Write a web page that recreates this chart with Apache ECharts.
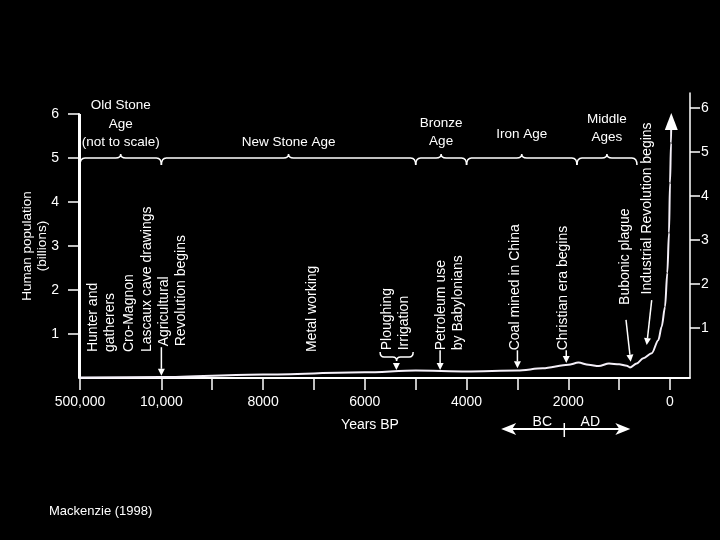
<!DOCTYPE html>
<html>
<head>
<meta charset="utf-8">
<script src="https://cdn.jsdelivr.net/npm/echarts@6/dist/echarts.min.js"></script>
<style>
  html, body { margin: 0; background: #000; }
  #main { width: 720px; height: 540px; }
</style>
</head>
<body>
<div id="main"></div>
<script>
// population curve (years before present -> billions)
var curveYears = [500000, 10000, 8000, 6000, 5000, 4000, 3000, 2500, 2000, 1800, 1600, 1400, 1200, 1000, 850, 787, 655, 525, 360, 230, 163, 98, 53, 20, 0, -20, -25];
var curvePop = [0.01, 0.02, 0.08, 0.13, 0.17, 0.15, 0.17, 0.22, 0.3, 0.35, 0.3, 0.27, 0.33, 0.31, 0.28, 0.24, 0.33, 0.45, 0.56, 0.86, 1.17, 1.62, 2.39, 3.3, 4.43, 5.34, 5.83];

// x axis ticks / labels (years BP)
var tickYears = [500000, 10000, 9000, 8000, 7000, 6000, 5000, 4000, 3000, 2000, 1000, 0];
var labelYears = [500000, 10000, 8000, 6000, 4000, 2000, 0];
var labelText = ['500,000', '10,000', '8000', '6000', '4000', '2000', '0'];
var popTicks = [1, 2, 3, 4, 5, 6];

// ages shown with braces along the top
var periodNames = ['Old Stone\nAge\n(not to scale)', 'New Stone Age', 'Bronze\nAge', 'Iron Age', 'Middle\nAges'];
var periodStart = [500000, 10000, 5000, 4000, 1830];
var periodEnd = [10000, 5000, 4000, 1830, 650];
var braceLevel = 5;

// vertical notes
var noteText = ['Hunter and\ngatherers', 'Cro-Magnon', 'Lascaux cave drawings', 'Agricultural\nRevolution begins',
  'Metal working', 'Ploughing\nIrrigation', 'Petroleum use\nby Babylonians', 'Coal mined in China',
  'Christian era begins', 'Bubonic plague', 'Industrial Revolution begins'];
var noteYear = [180000, 48000, 20000, 9780, 7040, 5400, 4330, 3050, 2100, 885, 452];
var noteBase = [0.59, 0.59, 0.59, 0.72, 0.59, 0.63, 0.63, 0.63, 0.63, 1.66, 1.90];

// arrows pointing at the curve
var arrowFromYear = [10000, 5380, 4520, 3000, 2040, 865, 360];
var arrowFromPop = [0.70, 0.29, 0.63, 0.63, 0.63, 1.32, 1.77];
var arrowToYear = [10000, 5380, 4520, 3000, 2040, 773, 458];
var arrowToPop = [0.05, 0.18, 0.18, 0.22, 0.34, 0.37, 0.75];

// ploughing / irrigation bracket
var ploughSpan = [5700, 5050];
var ploughLevel = 0.48;

// BC | AD arrow
var bcadSpan = [3320, 780];
var eraYear = 2000;

var FONT = "'Liberation Sans', Arial, sans-serif";

// 10,000 .. 0 BP is linear, older times squeezed in ("not to scale");
// shifted by 1000 so the axis never crosses zero
function toAxis(y) {
  var u = y <= 10000 ? y : 10000 + 1600 * Math.log(y / 10000) / Math.log(50);
  return u + 1000;
}

function arrow(p0, p1, head, half, width) {
  var dx = p1[0] - p0[0], dy = p1[1] - p0[1];
  var len = Math.sqrt(dx * dx + dy * dy);
  var ux = dx / len, uy = dy / len;
  var bx = p1[0] - ux * head, by = p1[1] - uy * head;
  return [
    { type: 'line', shape: { x1: p0[0], y1: p0[1], x2: bx, y2: by }, style: { stroke: '#fff', lineWidth: width || 1.5 } },
    { type: 'polygon', shape: { points: [[p1[0], p1[1]], [bx - uy * half, by + ux * half], [bx + uy * half, by - ux * half]] }, style: { fill: '#fff' } }
  ];
}

var braceLift = [0, 0, 1, 8, 5];

var chart = echarts.init(document.getElementById('main'));

var option = {
  backgroundColor: '#000',
  animation: false,
  title: {
    text: 'Mackenzie (1998)',
    left: 44,
    top: 500,
    textStyle: { color: '#fff', fontSize: 13, fontWeight: 'normal', fontFamily: FONT }
  },
  grid: [
    { left: 80, right: 30, top: 114, height: 264 },
    { left: 689, width: 1, top: 93, height: 284 },
    // thin box that also paints the left spine
    { left: 79, width: 2, top: 114, height: 264, show: true, backgroundColor: '#fff', borderWidth: 0 }
  ],
  xAxis: [
    {
      type: 'value',
      gridIndex: 0,
      inverse: true,
      min: toAxis(-393),
      max: toAxis(500000),
      name: 'Years BP',
      nameLocation: 'middle',
      nameGap: 40,
      nameTextStyle: { color: '#fff', fontSize: 14, fontFamily: FONT, padding: [0, 30, 0, 0] },
      axisLine: { onZero: false, lineStyle: { color: '#fff', width: 2 } },
      axisTick: { customValues: tickYears.map(toAxis), length: 12, lineStyle: { color: '#fff', width: 1.5 } },
      axisLabel: {
        customValues: labelYears.map(toAxis),
        margin: 17,
        color: '#fff',
        fontSize: 14,
        fontFamily: FONT,
        formatter: function (v) {
          for (var i = 0; i < labelYears.length; i++) {
            if (Math.abs(toAxis(labelYears[i]) - v) < 1) return labelText[i];
          }
          return '';
        }
      },
      splitLine: { show: false }
    },
    { type: 'value', gridIndex: 1, show: false, min: 1, max: 2 },
    { type: 'value', gridIndex: 2, show: false, min: 1, max: 2 }
  ],
  yAxis: [
    // scale used by the series; carries only the axis name
    {
      type: 'value',
      gridIndex: 0,
      min: 0,
      max: 6,
      name: 'Human population\n(billions)',
      nameLocation: 'middle',
      nameGap: 30,
      nameMoveOverlap: false,
      nameTextStyle: { color: '#fff', fontSize: 13.5, fontFamily: FONT, lineHeight: 15 },
      axisLine: { show: false },
      axisTick: { show: false },
      axisLabel: { show: false },
      splitLine: { show: false }
    },
    {
      type: 'value',
      gridIndex: 1,
      position: 'right',
      min: -0.11,
      max: 6.34,
      axisLine: { show: true, onZero: false, lineStyle: { color: '#fff', width: 1.5 } },
      axisTick: { customValues: popTicks, length: 10, lineStyle: { color: '#fff', width: 1.5 } },
      axisLabel: { customValues: popTicks, margin: 11, color: '#fff', fontSize: 14, fontFamily: FONT },
      splitLine: { show: false }
    },
    {
      type: 'value',
      gridIndex: 2,
      position: 'left',
      min: -0.001,
      max: 6,
      axisLine: { show: true, onZero: false, lineStyle: { color: '#fff', width: 2 } },
      axisTick: { show: true, customValues: popTicks, length: 11, lineStyle: { color: '#fff', width: 1.5 } },
      axisLabel: { customValues: popTicks, margin: 20, color: '#fff', fontSize: 14, fontFamily: FONT },
      splitLine: { show: false }
    }
  ],
  series: [
    {
      type: 'line',
      xAxisIndex: 0,
      yAxisIndex: 0,
      smooth: 0.3,
      smoothMonotone: 'x',
      symbol: 'none',
      showSymbol: true,
      lineStyle: { color: '#f4eff8', width: 2 },
      itemStyle: { color: '#fff' },
      data: curveYears.map(function (y, i) {
        var d = { value: [toAxis(y), curvePop[i]] };
        if (i === curveYears.length - 1) {
          d.symbol = 'triangle';
          d.symbolSize = [13, 17];
        }
        return d;
      })
    },
    {
      // age braces
      type: 'custom',
      xAxisIndex: 0,
      yAxisIndex: 0,
      clip: false,
      silent: true,
      encode: { x: [0, 1], y: 2 },
      data: periodNames.map(function (n, i) {
        return [toAxis(periodStart[i]), toAxis(periodEnd[i]), braceLevel];
      }),
      renderItem: function (params, api) {
        var i = params.dataIndex;
        var a = api.coord([api.value(0), api.value(2)]);
        var b = api.coord([api.value(1), api.value(2)]);
        var x0 = a[0], x1 = b[0], y = a[1], xm = (x0 + x1) / 2;
        var d = 7, h = 4, r = 5;
        var p = 'M' + x0 + ' ' + (y + d) + 'Q' + x0 + ' ' + y + ' ' + (x0 + r) + ' ' + y +
          'L' + (xm - r) + ' ' + y + 'Q' + xm + ' ' + y + ' ' + xm + ' ' + (y - h) +
          'Q' + xm + ' ' + y + ' ' + (xm + r) + ' ' + y +
          'L' + (x1 - r) + ' ' + y + 'Q' + x1 + ' ' + y + ' ' + x1 + ' ' + (y + d);
        return {
          type: 'group',
          children: [
            { type: 'path', shape: { pathData: p }, style: { stroke: '#fff', fill: 'none', lineWidth: 1.5 } },
            {
              type: 'text', x: xm, y: y - 6 - braceLift[i],
              style: { text: periodNames[i], fill: '#fff', fontSize: 13.5, fontFamily: FONT, align: 'center', verticalAlign: 'bottom', lineHeight: 18.5 }
            }
          ]
        };
      }
    },
    {
      // vertical notes
      type: 'custom',
      xAxisIndex: 0,
      yAxisIndex: 0,
      clip: false,
      silent: true,
      encode: { x: 0, y: 1 },
      data: noteYear.map(function (y, i) { return [toAxis(y), noteBase[i]]; }),
      renderItem: function (params, api) {
        var i = params.dataIndex;
        var p = api.coord([api.value(0), api.value(1)]);
        return {
          type: 'text', x: p[0], y: p[1], rotation: Math.PI / 2,
          style: { text: noteText[i], fill: '#fff', fontSize: 14, fontFamily: FONT, align: 'left', verticalAlign: 'middle', lineHeight: 17 }
        };
      }
    },
    {
      // arrows
      type: 'custom',
      xAxisIndex: 0,
      yAxisIndex: 0,
      clip: false,
      silent: true,
      encode: { x: [0, 2], y: [1, 3] },
      data: arrowFromYear.map(function (y, i) {
        return [toAxis(y), arrowFromPop[i], toAxis(arrowToYear[i]), arrowToPop[i]];
      }),
      renderItem: function (params, api) {
        var p0 = api.coord([api.value(0), api.value(1)]);
        var p1 = api.coord([api.value(2), api.value(3)]);
        return { type: 'group', children: arrow(p0, p1, 7, 3.5) };
      }
    },
    {
      // ploughing / irrigation bracket
      type: 'custom',
      xAxisIndex: 0,
      yAxisIndex: 0,
      clip: false,
      silent: true,
      encode: { x: [0, 1], y: 2 },
      data: [[toAxis(ploughSpan[0]), toAxis(ploughSpan[1]), ploughLevel]],
      renderItem: function (params, api) {
        var a = api.coord([api.value(0), api.value(2)]);
        var b = api.coord([api.value(1), api.value(2)]);
        var x0 = a[0], x1 = b[0], y = a[1], xm = (x0 + x1) / 2;
        var d = 5, h = 4, r = 4;
        var p = 'M' + x0 + ' ' + (y - d) + 'Q' + x0 + ' ' + y + ' ' + (x0 + r) + ' ' + y +
          'L' + (xm - r) + ' ' + y + 'Q' + xm + ' ' + y + ' ' + xm + ' ' + (y + h) +
          'Q' + xm + ' ' + y + ' ' + (xm + r) + ' ' + y +
          'L' + (x1 - r) + ' ' + y + 'Q' + x1 + ' ' + y + ' ' + x1 + ' ' + (y - d);
        return { type: 'path', shape: { pathData: p }, style: { stroke: '#fff', fill: 'none', lineWidth: 1.5 } };
      }
    },
    {
      // BC | AD arrow under the axis
      type: 'custom',
      xAxisIndex: 0,
      yAxisIndex: 0,
      clip: false,
      silent: true,
      encode: { x: 0, y: 1 },
      data: [[toAxis(eraYear), 0]],
      renderItem: function (params, api) {
        var p = api.coord([api.value(0), 0]);
        var xl = api.coord([toAxis(bcadSpan[0]), 0])[0];
        var xr = api.coord([toAxis(bcadSpan[1]), 0])[0];
        var y = p[1] + 51;
        var kids = [
          { type: 'line', shape: { x1: xl + 10, y1: y, x2: xr - 10, y2: y }, style: { stroke: '#fff', lineWidth: 2 } },
          { type: 'polygon', shape: { points: [[xl, y], [xl + 15, y - 6], [xl + 11, y], [xl + 15, y + 6]] }, style: { fill: '#fff' } },
          { type: 'polygon', shape: { points: [[xr, y], [xr - 15, y - 6], [xr - 11, y], [xr - 15, y + 6]] }, style: { fill: '#fff' } },
          { type: 'line', shape: { x1: p[0] - 4, y1: y - 6, x2: p[0] - 4, y2: y + 8 }, style: { stroke: '#fff', lineWidth: 1.5 } },
          { type: 'text', x: p[0] - 26, y: y - 7, style: { text: 'BC', fill: '#fff', fontSize: 14, fontFamily: FONT, align: 'center', verticalAlign: 'middle' } },
          { type: 'text', x: p[0] + 22, y: y - 7, style: { text: 'AD', fill: '#fff', fontSize: 14, fontFamily: FONT, align: 'center', verticalAlign: 'middle' } }
        ];
        return { type: 'group', children: kids };
      }
    }
  ]
};

chart.setOption(option);
window.addEventListener('resize', function () {
  chart.resize();
});
</script>
</body>
</html>
